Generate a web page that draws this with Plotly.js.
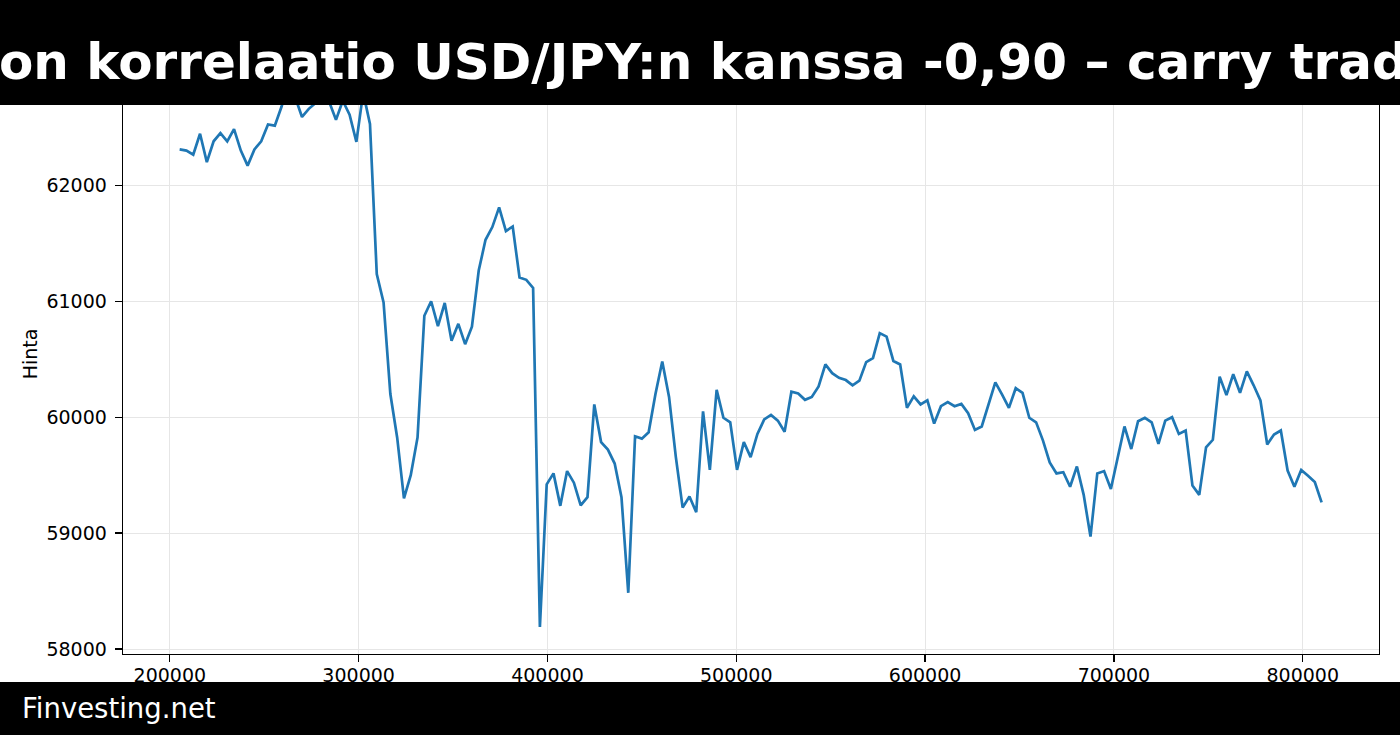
<!DOCTYPE html>
<html>
<head>
<meta charset="utf-8">
<script src="https://cdn.plot.ly/plotly-3.0.1.min.js"></script>
<style>
html,body{margin:0;padding:0;overflow:hidden;background:#fff;}
#chart{width:1400px;height:735px;}
</style>
</head>
<body>
<div id="chart"></div>
<script>
const titleText = "on korrelaatio USD/JPY:n kanssa -0,90 – carry trade";
const footerText = "Finvesting.net";
const yAxisLabel = "Hinta";

const xValues = [
205200, 208800, 212400, 216000, 219600, 223200, 226800, 230400, 234000, 237600,
241200, 244800, 248400, 252000, 255600, 259200, 262800, 266400, 270000, 273600,
277200, 280800, 284400, 288000, 291600, 295200, 298800, 302400, 306000, 309600,
313200, 316800, 320400, 324000, 327600, 331200, 334800, 338400, 342000, 345600,
349200, 352800, 356400, 360000, 363600, 367200, 370800, 374400, 378000, 381600,
385200, 388800, 392400, 396000, 399600, 403200, 406800, 410400, 414000, 417600,
421200, 424800, 428400, 432000, 435600, 439200, 442800, 446400, 450000, 453600,
457200, 460800, 464400, 468000, 471600, 475200, 478800, 482400, 486000, 489600,
493200, 496800, 500400, 504000, 507600, 511200, 514800, 518400, 522000, 525600,
529200, 532800, 536400, 540000, 543600, 547200, 550800, 554400, 558000, 561600,
565200, 568800, 572400, 576000, 579600, 583200, 586800, 590400, 594000, 597600,
601200, 604800, 608400, 612000, 615600, 619200, 622800, 626400, 630000, 633600,
637200, 640800, 644400, 648000, 651600, 655200, 658800, 662400, 666000, 669600,
673200, 676800, 680400, 684000, 687600, 691200, 694800, 698400, 702000, 705600,
709200, 712800, 716400, 720000, 723600, 727200, 730800, 734400, 738000, 741600,
745200, 748800, 752400, 756000, 759600, 763200, 766800, 770400, 774000, 777600,
781200, 784800, 788400, 792000, 795600, 799200, 802800, 806400, 810000
];

const priceValues = [
62310, 62300, 62265, 62445, 62200, 62380, 62450, 62380, 62485, 62300,
62170, 62310, 62380, 62525, 62515, 62680, 62890, 62760, 62590, 62660,
62710, 62760, 62720, 62565, 62730, 62610, 62375, 62800, 62530, 61235,
60990, 60200, 59825, 59300, 59500, 59825, 60875, 61000, 60785, 60985,
60660, 60805, 60630, 60780, 61265, 61530, 61640, 61810, 61605, 61645,
61205, 61185, 61115, 58190, 59420, 59515, 59235, 59535, 59435, 59240,
59310, 60110, 59785, 59720, 59600, 59310, 58485, 59835, 59815, 59870,
60200, 60480, 60175, 59655, 59220, 59315, 59180, 60050, 59545, 60235,
59995, 59955, 59545, 59785, 59655, 59855, 59980, 60020, 59970, 59875,
60220, 60205, 60150, 60175, 60265, 60455, 60380, 60340, 60320, 60275,
60315, 60475, 60510, 60725, 60695, 60485, 60455, 60080, 60180, 60110,
60145, 59945, 60095, 60130, 60095, 60115, 60035, 59890, 59920, 60110,
60300, 60195, 60080, 60250, 60210, 59995, 59955, 59800, 59610, 59515,
59525, 59400, 59575, 59330, 58970, 59515, 59535, 59380, 59655, 59920,
59725, 59965, 59995, 59955, 59770, 59970, 60000, 59855, 59885, 59410,
59330, 59740, 59805, 60350, 60190, 60370, 60210, 60395, 60275, 60145,
59765, 59850, 59885, 59540, 59400, 59545, 59495, 59440, 59265
];

const xTickValues = [200000, 300000, 400000, 500000, 600000, 700000, 800000];
const yTickValues = [58000, 59000, 60000, 61000, 62000];

const W = 1400, H = 735;
const mL = 123, mR = 21, mT = 54, mB = 81;
const plotW = W - mL - mR, plotH = H - mT - mB;
const px2paperX = p => (p - mL) / plotW;
const px2paperY = p => (H - mB - p) / plotH;

const FONT = "DejaVu Sans, Verdana, sans-serif";

const trace = {
  x: xValues,
  y: priceValues,
  type: 'scatter',
  mode: 'lines',
  line: {color: '#1f77b4', width: 2.7},
  hoverinfo: 'skip'
};

const axisCommon = {
  showline: true, mirror: true, linecolor: '#000', linewidth: 1.3,
  ticks: 'outside', ticklen: 7, tickwidth: 1.3, tickcolor: '#000',
  showgrid: true, gridcolor: '#e6e6e6', gridwidth: 1,
  zeroline: false,
  tickfont: {family: FONT, size: 19, color: '#000'},
  tickmode: 'array'
};

const layout = {
  width: W, height: H,
  margin: {l: mL, r: mR, t: mT, b: mB, pad: 0},
  paper_bgcolor: '#fff', plot_bgcolor: '#fff',
  showlegend: false,
  font: {family: FONT, color: '#000'},
  xaxis: Object.assign({}, axisCommon, {
    range: [175200, 840400],
    tickvals: xTickValues,
    ticktext: xTickValues.map(String),
    ticklabelstandoff: -3
  }),
  yaxis: Object.assign({}, axisCommon, {
    range: [57957, 63133],
    tickvals: yTickValues,
    ticktext: yTickValues.map(String),
    ticklabelstandoff: 4,
    title: {text: yAxisLabel, font: {family: FONT, size: 19, color: '#000'}, standoff: 3}
  }),
  shapes: [
    {type: 'rect', xref: 'paper', yref: 'paper', layer: 'above',
     x0: px2paperX(-5), x1: px2paperX(W + 5), y0: px2paperY(105), y1: px2paperY(-5),
     fillcolor: '#000', line: {width: 0}},
    {type: 'rect', xref: 'paper', yref: 'paper', layer: 'above',
     x0: px2paperX(-5), x1: px2paperX(W + 5), y0: px2paperY(H + 5), y1: px2paperY(682),
     fillcolor: '#000', line: {width: 0}}
  ],
  annotations: [
    {text: '<b>' + titleText + '</b>', xref: 'paper', yref: 'paper',
     x: px2paperX(-3), y: px2paperY(62), xanchor: 'left', yanchor: 'middle',
     showarrow: false, font: {family: FONT, size: 50, color: '#fff'}},
    {text: footerText, xref: 'paper', yref: 'paper',
     x: px2paperX(20), y: px2paperY(708), xanchor: 'left', yanchor: 'middle',
     showarrow: false, font: {family: FONT, size: 27.5, color: '#fff'}}
  ]
};

Plotly.newPlot('chart', [trace], layout, {staticPlot: true, displayModeBar: false});
</script>
</body>
</html>
